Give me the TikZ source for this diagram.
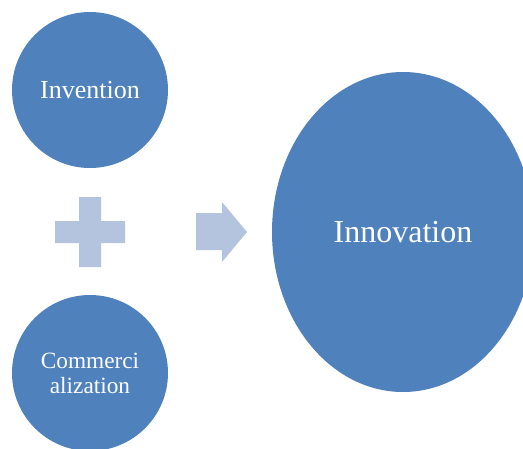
\documentclass[tikz,border=0pt]{standalone}
\usepackage{fontspec}
\setmainfont{Liberation Serif}
\definecolor{dblue}{HTML}{4F81BD}
\definecolor{lblue}{HTML}{B4C3DE}
\tikzset{
  bubble/.style={circle, fill=dblue, draw=none, text=white, inner sep=0pt, align=center},
  sym/.style={fill=lblue, draw=none}
}
\begin{document}
\begin{tikzpicture}[x=1pt,y=-1pt]
\useasboundingbox (0,0) rectangle (523,448);
\clip (0,0) rectangle (523,448);
\node[bubble, minimum size=156pt, font=\fontsize{26}{28}\selectfont] (inv) at (90,90) {Invention};
\node[bubble, minimum size=156pt, font=\fontsize{23.3}{25}\selectfont] (com) at (90,373) {Commerci\\alization};
\fill[dblue] (403,232) ellipse [x radius=131, y radius=160];
\node[text=white, font=\fontsize{32}{34}\selectfont] (innov) at (403,232) {Innovation};
% plus sign
\fill[sym] (79,197) -- (101,197) -- (101,221) -- (125,221) -- (125,243) -- (101,243) -- (101,267) -- (79,267) -- (79,243) -- (55,243) -- (55,221) -- (79,221) -- cycle;
% arrow
\fill[sym] (196,213) -- (222,213) -- (222,202) -- (247,232) -- (222,262) -- (222,250) -- (196,250) -- cycle;
\end{tikzpicture}
\end{document}
